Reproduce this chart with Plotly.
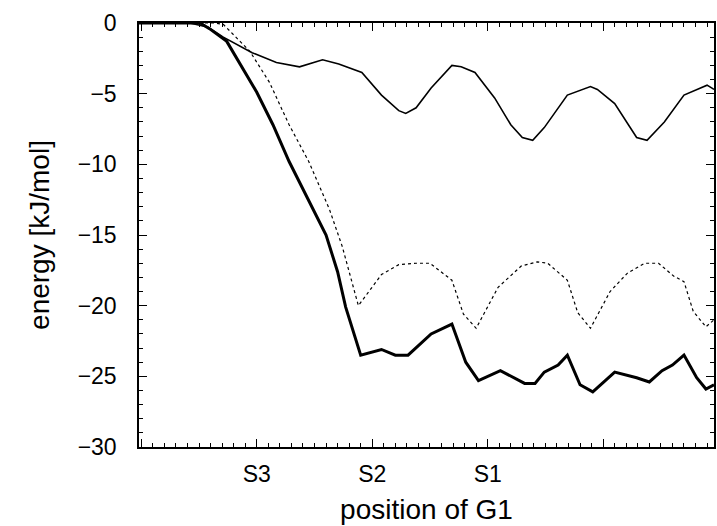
import plotly.graph_objects as go

# position of G1 (arbitrary units; S3, S2, S1 at 10, 20, 30)
x_thin = [-0.2, 4.2, 5.8, 7.1, 9.6, 11.7, 13.7, 15.7, 17.1, 19.1, 20.8, 22.3, 22.9, 23.8, 25.1,
          26.9, 27.7, 28.9, 30.6, 32.0, 33.0, 33.9, 34.9, 36.9, 38.9, 39.5, 41.0, 42.9, 43.8,
          45.3, 47.0, 49.0, 49.6]
y_thin = [0, 0, -0.3, -1.0, -2.1, -2.8, -3.1, -2.6, -2.9, -3.5, -5.1, -6.2, -6.4, -6.0, -4.6,
          -3.0, -3.1, -3.5, -5.3, -7.2, -8.1, -8.3, -7.4, -5.1, -4.5, -4.7, -5.7, -8.1, -8.3,
          -7.0, -5.1, -4.4, -4.7]

x_dot = [-0.2, 6.4, 7.1, 9.4, 11.1, 12.8, 14.5, 16.3, 17.4, 18.8, 20.8, 22.3, 23.8, 25.0, 26.9,
         27.9, 29.0, 30.9, 32.9, 34.3, 35.2, 36.9, 37.8, 38.9, 40.6, 42.1, 43.6, 44.8, 46.1,
         47.0, 47.8, 48.9, 49.6]
y_dot = [0, 0, -0.1, -2.0, -4.2, -7.2, -9.8, -13.2, -15.8, -20.0, -17.8, -17.1, -17.0, -17.0, -18.2,
         -20.6, -21.6, -18.7, -17.2, -16.9, -17.0, -18.2, -20.5, -21.6, -19.0, -17.7, -17.0, -17.0, -17.9,
         -18.3, -20.4, -21.5, -21.0]

x_thick = [-0.2, 5.1, 5.9, 7.4, 10.0, 11.4, 12.8, 14.8, 16.0, 17.0, 17.7, 19.0, 20.8, 22.0, 23.1,
           25.1, 26.9, 28.1, 29.2, 31.1, 33.2, 34.1, 34.9, 36.1, 36.9, 38.0, 39.1, 41.0, 42.9,
           44.0, 45.1, 46.0, 47.0, 48.1, 48.9, 49.6]
y_thick = [0, 0, -0.4, -1.3, -4.9, -7.2, -9.8, -13.1, -15.0, -17.6, -20.1, -23.5, -23.1, -23.5, -23.5,
           -22.0, -21.3, -24.0, -25.3, -24.6, -25.5, -25.5, -24.7, -24.2, -23.5, -25.6, -26.1, -24.7, -25.1,
           -25.4, -24.6, -24.2, -23.5, -25.1, -25.9, -25.6]

x_tickvals = [0, 10, 20, 30, 40]
x_ticktext = ["", "S3", "S2", "S1", ""]
y_tickvals = [0, -5, -10, -15, -20, -25, -30]
y_ticktext = ["0", "\u22125", "\u221210", "\u221215", "\u221220", "\u221225", "\u221230"]

fig = go.Figure()
fig.add_trace(go.Scatter(x=x_thin, y=y_thin, mode="lines",
                         line=dict(color="black", width=1.6), showlegend=False))
fig.add_trace(go.Scatter(x=x_dot, y=y_dot, mode="lines",
                         line=dict(color="black", width=1.2, dash="dot"), showlegend=False))
fig.add_trace(go.Scatter(x=x_thick, y=y_thick, mode="lines",
                         line=dict(color="black", width=3), showlegend=False))

font = "Liberation Sans, Arial, sans-serif"
fig.update_layout(
    width=717, height=526,
    margin=dict(l=139, r=1, t=23, b=79),
    paper_bgcolor="white", plot_bgcolor="white",
    font=dict(family=font, size=23, color="black"),
    xaxis=dict(range=[-0.2, 49.6], tickmode="array", tickvals=x_tickvals, ticktext=x_ticktext,
               ticks="inside", ticklen=8, tickwidth=1.2, tickcolor="black",
               minor=dict(dtick=1, ticks="inside", ticklen=4, tickcolor="black", tickwidth=1),
               showline=True, linecolor="black", linewidth=1.5, mirror="allticks",
               showgrid=False, zeroline=False,
               title=dict(text="position of G1", standoff=13), ticklabelstandoff=6),
    yaxis=dict(range=[-30, 0], tickmode="array", tickvals=y_tickvals, ticktext=y_ticktext,
               ticks="inside", ticklen=8, tickwidth=1.2, tickcolor="black",
               minor=dict(dtick=1, ticks="inside", ticklen=4, tickcolor="black", tickwidth=1),
               showline=True, linecolor="black", linewidth=1.5, mirror="allticks",
               showgrid=False, zeroline=False,
               title=dict(text="energy [kJ/mol]", standoff=20), ticklabelstandoff=16),
)
fig.write_html("out.html", config={"displayModeBar": False},
               post_script="document.body.style.margin='0';")
